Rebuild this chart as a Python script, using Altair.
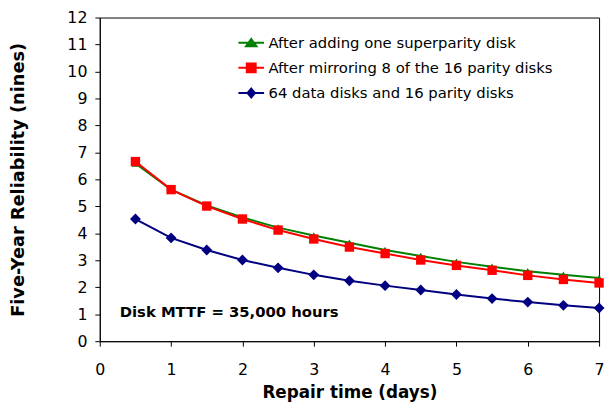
import altair as alt
import pandas as pd

# ---- data ----
repair_days = [0.5, 1.0, 1.5, 2.0, 2.5, 3.0, 3.5, 4.0, 4.5, 5.0, 5.5, 6.0, 6.5, 7.0]
superparity = [6.59, 5.62, 5.03, 4.59, 4.21, 3.92, 3.65, 3.38, 3.16, 2.94, 2.76, 2.59, 2.46, 2.34]
mirroring = [6.66, 5.62, 5.01, 4.53, 4.12, 3.79, 3.49, 3.25, 3.01, 2.81, 2.63, 2.44, 2.29, 2.16]
baseline = [4.53, 3.83, 3.38, 3.01, 2.72, 2.46, 2.24, 2.06, 1.90, 1.73, 1.58, 1.45, 1.33, 1.23]

series_names = [
    "After adding one superparity disk",
    "After mirroring 8 of the 16 parity disks",
    "64 data disks and 16 parity disks",
]
series_colors = ["#008000", "#FF0000", "#000080"]
marker_shapes = ["triangle-up", "square", "diamond"]
marker_sizes = [60, 121, 81]
legend_symbols = [
    "M-1.04,0H1.04M0,-0.3L0.42,0.28L-0.42,0.28Z",
    "M-1.04,0H1.04M-0.36,-0.36H0.36V0.36H-0.36Z",
    "M-1.04,0H1.04M0,-0.36L0.3,0L0,0.36L-0.3,0Z",
]
draw_order = [1, 2, 0]  # green, red, blue (red drawn over green)

annot_text = ["Disk MTTF = 35,000 hours"]
annot_x = [0.28]
annot_y = [0.9]

x_ticks = [0, 1, 2, 3, 4, 5, 6, 7]
y_ticks = list(range(0, 13))

rows = []
for name, vals, order in zip(series_names, [superparity, mirroring, baseline], draw_order):
    for d, v in zip(repair_days, vals):
        rows.append({"series": name, "days": d, "nines": v, "order": order})
df = pd.DataFrame(rows)

annot_df = pd.DataFrame({"text": annot_text, "days": annot_x, "nines": annot_y})

FONT = "DejaVu Sans"

x_enc = alt.X(
    "days:Q",
    scale=alt.Scale(domain=[0, 7], nice=False),
    axis=alt.Axis(
        values=x_ticks,
        format="d",
        labelOverlap=False,
        title="Repair time (days)",
        grid=False,
        domainColor="black",
        tickColor="black",
        tickSize=5,
        labelFont=FONT,
        labelFontSize=16,
        labelColor="black",
        labelPadding=16,
        labelFlush=False,
        titleFont=FONT,
        titleFontSize=17,
        titleFontWeight="bold",
        titleColor="black",
        titleBaseline="middle",
        titleY=52,
    ),
)
y_enc = alt.Y(
    "nines:Q",
    scale=alt.Scale(domain=[0, 12], nice=False),
    axis=alt.Axis(
        values=y_ticks,
        format="d",
        labelOverlap=False,
        title="Five-Year Reliability  (nines)",
        grid=False,
        domainColor="black",
        tickColor="black",
        tickSize=5,
        labelFont=FONT,
        labelFontSize=16,
        labelColor="black",
        labelPadding=8,
        labelFlush=False,
        titleFont=FONT,
        titleFontSize=18,
        titleFontWeight="bold",
        titleColor="black",
        titleBaseline="middle",
        titleX=-82,
        titleY=164,
        titleAngle=270,
    ),
)

color_scale = alt.Scale(domain=series_names, range=series_colors)

lines = alt.Chart(df).mark_line(strokeWidth=2).encode(
    x=x_enc,
    y=y_enc,
    color=alt.Color("series:N", scale=color_scale, legend=None),
    order=alt.Order("order:Q"),
    detail="order:Q",
)

points = alt.Chart(df).mark_point(filled=True, opacity=1).encode(
    x=x_enc,
    y=y_enc,
    color=alt.Color("series:N", scale=color_scale, legend=None),
    shape=alt.Shape("series:N", scale=alt.Scale(domain=series_names, range=marker_shapes), legend=None),
    size=alt.Size("series:N", scale=alt.Scale(domain=series_names, range=marker_sizes), legend=None),
    order=alt.Order("order:Q"),
)


def make_legend():
    return alt.Legend(
        title=None,
        orient="none",
        legendX=140,
        legendY=12,
        symbolSize=625,
        symbolStrokeWidth=2,
        symbolOpacity=1,
        rowPadding=3.5,
        labelOffset=4,
        labelFont=FONT,
        labelFontSize=15,
        labelColor="black",
        labelLimit=400,
        padding=0,
    )


legend_layer = alt.Chart(df).mark_point(filled=True, opacity=1).encode(
    x=x_enc,
    y=y_enc,
    fill=alt.Fill("series:N", scale=alt.Scale(domain=series_names, range=series_colors), legend=make_legend()),
    stroke=alt.Stroke("series:N", scale=alt.Scale(domain=series_names, range=series_colors), legend=make_legend()),
    shape=alt.Shape("series:N", scale=alt.Scale(domain=series_names, range=legend_symbols), legend=make_legend()),
).transform_filter(alt.datum.days < 0)

annot = alt.Chart(annot_df).mark_text(
    align="left", baseline="alphabetic", font=FONT, fontSize=15, fontWeight="bold", color="black"
).encode(
    x=x_enc,
    y=y_enc,
    text="text:N",
)

chart = (
    alt.layer(lines, points, legend_layer, annot)
    .resolve_scale(color="independent", shape="independent", fill="independent", stroke="independent")
    .properties(
        width=506,
        height=328,
        padding={"left": 93, "top": 7, "right": 6, "bottom": 62},
        autosize=alt.AutoSizeParams(type="none"),
        background="white",
    )
    .configure_view(stroke="black", strokeWidth=1)
)

chart.save("out.html", embed_options={"renderer": "svg", "actions": False})
